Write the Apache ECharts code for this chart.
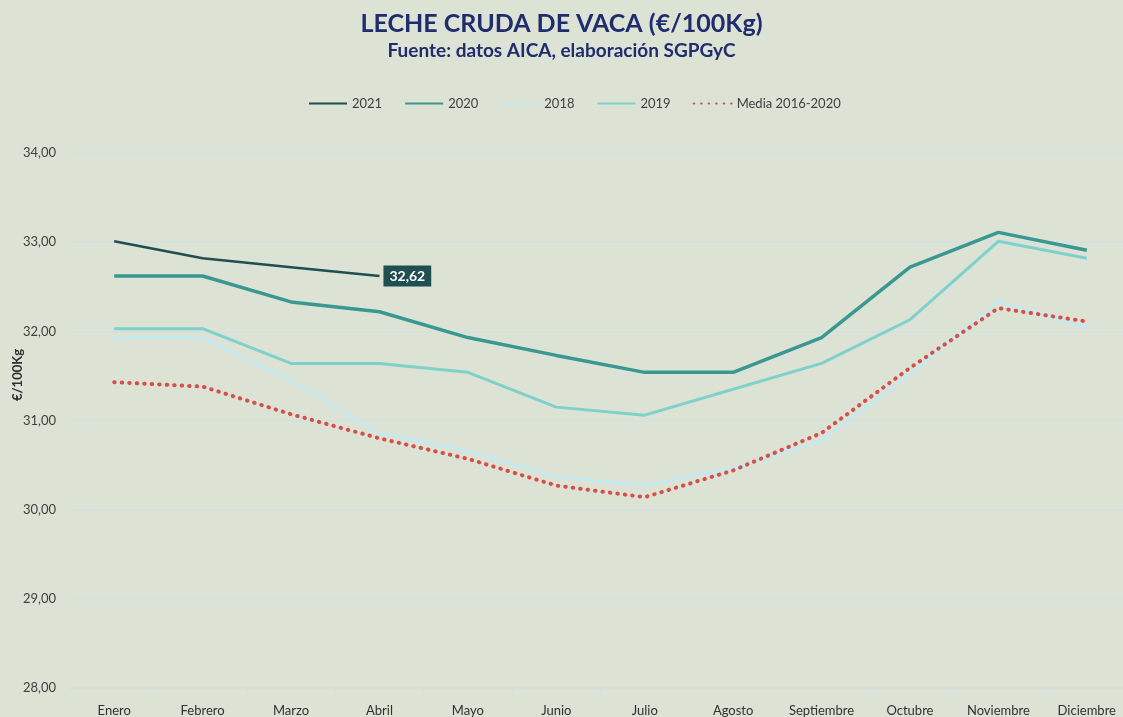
<!DOCTYPE html>
<html>
<head>
<meta charset="utf-8">
<script src="https://cdn.jsdelivr.net/npm/echarts@6/dist/echarts.min.js"></script>
<style>
  html, body { margin: 0; padding: 0; background: #dce2d4; }
  #chart { width: 1123px; height: 717px; }
</style>
</head>
<body>
<div id="chart"></div>
<script>
const months = ['Enero', 'Febrero', 'Marzo', 'Abril', 'Mayo', 'Junio', 'Julio', 'Agosto', 'Septiembre', 'Octubre', 'Noviembre', 'Diciembre'];
const data2021 = [33.01, 32.82, 32.72, 32.62];
const data2020 = [32.62, 32.62, 32.33, 32.22, 31.93, 31.73, 31.54, 31.54, 31.93, 32.72, 33.11, 32.91];
const data2018 = [31.93, 31.93, 31.45, 30.86, 30.66, 30.37, 30.27, 30.47, 30.77, 31.52, 32.33, 32.04];
const data2019 = [32.03, 32.03, 31.64, 31.64, 31.54, 31.15, 31.06, 31.35, 31.64, 32.13, 33.01, 32.82];
const dataMedia = [31.43, 31.38, 31.07, 30.80, 30.57, 30.27, 30.14, 30.44, 30.86, 31.59, 32.26, 32.11];
const yTicks = { min: 28, max: 34, interval: 1 };

const font = 'Lato, "Open Sans", sans-serif';
const fmt = v => v.toFixed(2).replace('.', ',');

const chart = echarts.init(document.getElementById('chart'));
chart.setOption({
  backgroundColor: '#dce2d4',
  textStyle: { fontFamily: font },
  title: {
    text: 'LECHE CRUDA DE VACA (€/100Kg)',
    subtext: 'Fuente: datos AICA, elaboración SGPGyC',
    left: 'center',
    top: 6,
    itemGap: 5,
    textStyle: { color: '#1f2d6e', fontSize: 25, fontWeight: 'bold', fontFamily: font },
    subtextStyle: { color: '#1f2d6e', fontSize: 19, fontWeight: 'bold', fontFamily: font }
  },
  legend: {
    top: 92,
    left: 303,
    itemWidth: 38,
    itemHeight: 10,
    itemGap: 22,
    itemStyle: { opacity: 0 },
    textStyle: { color: '#404040', fontSize: 13, fontFamily: font },
    data: ['2021', '2020', '2018', '2019', 'Media 2016-2020']
  },
  grid: {
    left: 70,
    right: -8,
    top: 153,
    bottom: 29,
    outerBoundsMode: 'none'
  },
  graphic: [{
    type: 'text',
    x: 18,
    y: 375,
    rotation: Math.PI / 2,
    style: {
      text: '€/100Kg',
      fill: '#303030',
      font: 'bold 13px ' + font,
      align: 'center',
      verticalAlign: 'middle'
    }
  }],
  xAxis: {
    type: 'category',
    data: months,
    boundaryGap: true,
    axisLine: { lineStyle: { color: '#d3e0e0', width: 1.5 } },
    axisTick: { show: true, lineStyle: { color: '#d3e0e0' } },
    axisLabel: { color: '#303030', fontSize: 13, margin: 16, fontFamily: font }
  },
  yAxis: {
    type: 'value',
    min: yTicks.min,
    max: yTicks.max,
    interval: yTicks.interval,
    axisLine: { show: false },
    axisTick: { show: false },
    axisLabel: { color: '#404040', fontSize: 13, margin: 14, formatter: v => fmt(v), fontFamily: font },
    splitLine: { lineStyle: { color: '#d3e1e1', width: 1.5 } }
  },
  series: [
    {
      name: '2021',
      type: 'line',
      data: data2021,
      symbol: 'none',
      z: 6,
      lineStyle: { color: '#1f4f50', width: 2.5 },
      itemStyle: { color: '#1f4f50' },
      endLabel: {
        show: true,
        formatter: p => fmt(p.value),
        color: '#ffffff',
        fontWeight: 'bold',
        fontSize: 14,
        backgroundColor: '#1f4f50',
        padding: [4, 6, 3, 6],
        distance: 4,
        fontFamily: font
      }
    },
    {
      name: '2020',
      type: 'line',
      data: data2020,
      symbol: 'none',
      z: 5,
      lineStyle: { color: '#3a9892', width: 3.5 },
      itemStyle: { color: '#3a9892' }
    },
    {
      name: '2018',
      type: 'line',
      data: data2018,
      symbol: 'none',
      z: 3,
      lineStyle: { color: '#c6e9ef', width: 3 },
      itemStyle: { color: '#c6e9ef' }
    },
    {
      name: '2019',
      type: 'line',
      data: data2019,
      symbol: 'none',
      z: 4,
      lineStyle: { color: '#7fd1cc', width: 3 },
      itemStyle: { color: '#7fd1cc' }
    },
    {
      name: 'Media 2016-2020',
      type: 'line',
      data: dataMedia,
      symbol: 'none',
      z: 4,
      lineStyle: { color: '#d5504c', width: 4, type: [0.5, 7], cap: 'round' },
      itemStyle: { color: '#d5504c' }
    }
  ]
});
</script>
</body>
</html>
